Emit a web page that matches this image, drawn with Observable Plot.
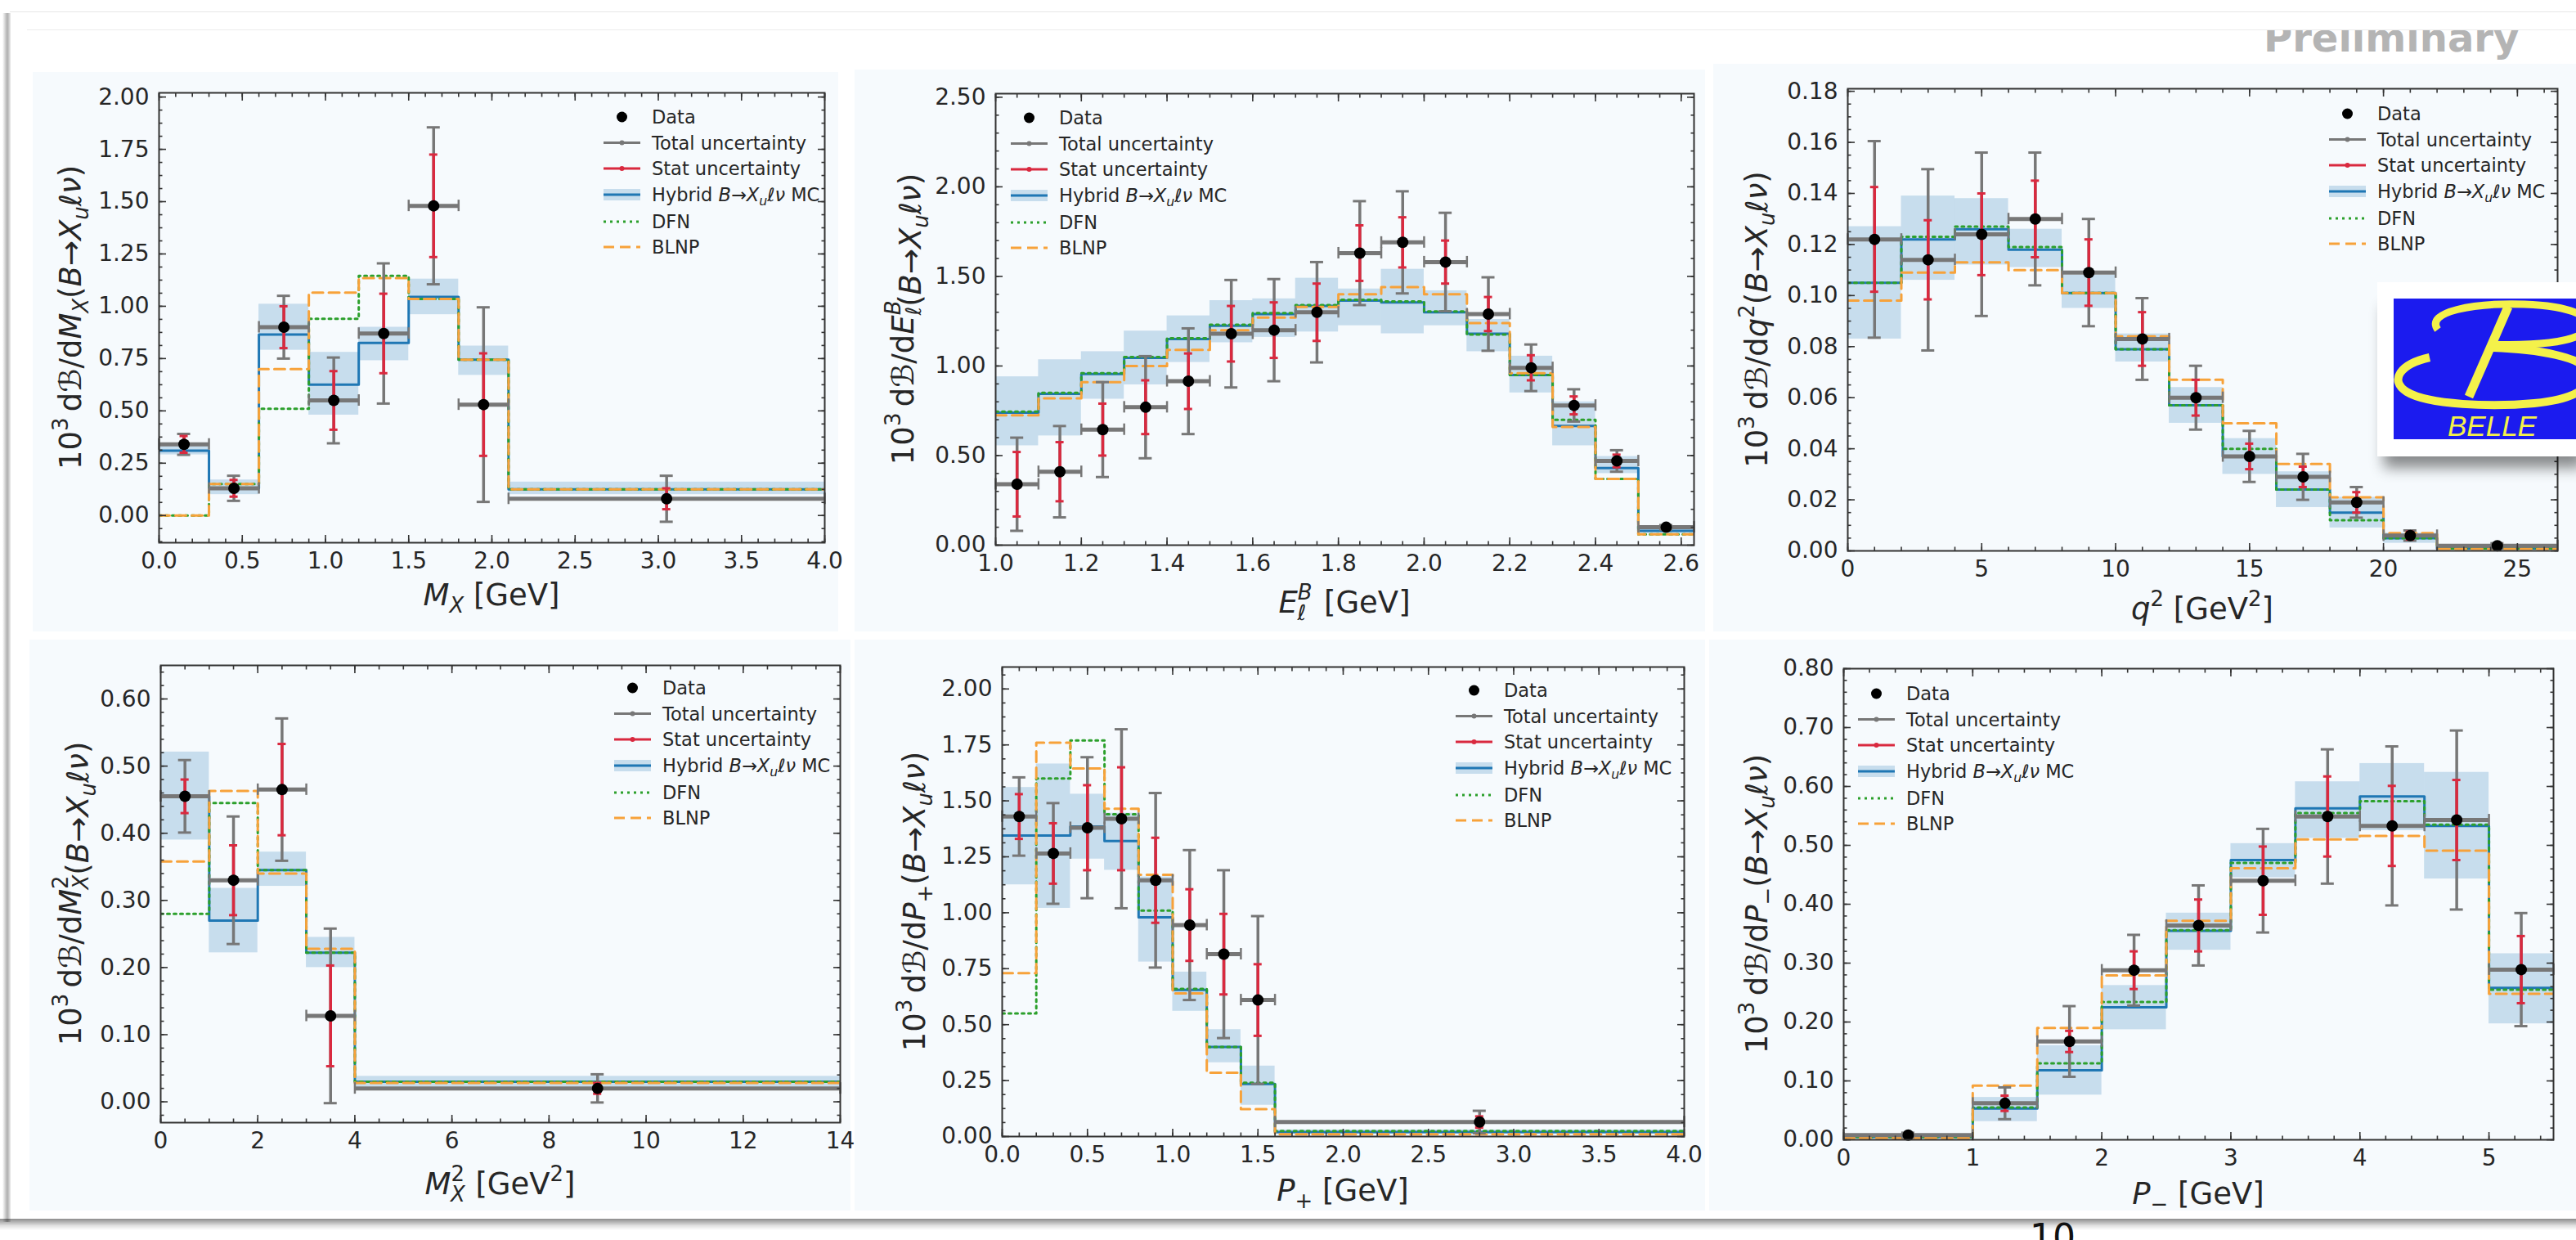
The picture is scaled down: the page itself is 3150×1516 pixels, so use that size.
<!DOCTYPE html>
<html>
<head>
<meta charset="utf-8">
<script src="https://cdn.jsdelivr.net/npm/d3@7"></script>
<script src="https://cdn.jsdelivr.net/npm/@observablehq/plot@0.6"></script>
<style>
html, body { margin: 0; padding: 0; background: #fff; }
#page { position: relative; width: 3150px; height: 1516px; overflow: hidden; background: #fff; font-family: "DejaVu Sans", sans-serif; }
.panel { position: absolute; background: #f6fafd; }
.panel svg { display: block; }
.abs { position: absolute; }
</style>
</head>
<body>
<div id="page"></div>
<script>
// ===================== DATA =====================
// --- M_X ---
const mxEdges   = [0, 0.3, 0.6, 0.9, 1.2, 1.5, 1.8, 2.1, 4.0];
const mxData    = [0.34, 0.13, 0.90, 0.55, 0.87, 1.48, 0.53, 0.08];
const mxTotErr  = [0.05, 0.06, 0.15, 0.205, 0.335, 0.375, 0.465, 0.11];
const mxStatErr = [0.04, 0.04, 0.10, 0.14, 0.19, 0.245, 0.245, 0.05];
const mxMC      = [0.31, 0.13, 0.865, 0.625, 0.825, 1.045, 0.745, 0.125];
const mxMCLo    = [0.29, 0.10, 0.79, 0.48, 0.74, 0.96, 0.67, 0.10];
const mxMCHi    = [0.33, 0.17, 1.01, 0.78, 0.90, 1.13, 0.81, 0.16];
const mxDFN     = [0.0, 0.15, 0.51, 0.94, 1.145, 1.035, 0.745, 0.125];
const mxBLNP    = [0.0, 0.15, 0.70, 1.065, 1.135, 1.035, 0.745, 0.125];
const mxXTicks  = [0, 0.5, 1.0, 1.5, 2.0, 2.5, 3.0, 3.5, 4.0];
const mxYTicks  = [0, 0.25, 0.5, 0.75, 1.0, 1.25, 1.5, 1.75, 2.0];

// --- E_l^B ---
const elEdges   = [1.0, 1.1, 1.2, 1.3, 1.4, 1.5, 1.6, 1.7, 1.8, 1.9, 2.0, 2.1, 2.2, 2.3, 2.4, 2.5, 2.63];
const elData    = [0.34, 0.41, 0.645, 0.77, 0.915, 1.18, 1.20, 1.30, 1.63, 1.69, 1.58, 1.29, 0.99, 0.78, 0.47, 0.10];
const elTotErr  = [0.26, 0.255, 0.265, 0.285, 0.295, 0.30, 0.285, 0.28, 0.29, 0.285, 0.275, 0.205, 0.13, 0.09, 0.06, 0.012];
const elStatErr = [0.18, 0.165, 0.145, 0.15, 0.155, 0.155, 0.155, 0.16, 0.155, 0.14, 0.12, 0.095, 0.07, 0.05, 0.035, 0.006];
const elMC      = [0.74, 0.845, 0.955, 1.045, 1.15, 1.225, 1.29, 1.335, 1.365, 1.355, 1.30, 1.18, 0.95, 0.665, 0.43, 0.08];
const elMCLo    = [0.555, 0.61, 0.815, 0.895, 1.02, 1.13, 1.16, 1.19, 1.225, 1.18, 1.225, 1.08, 0.85, 0.555, 0.40, 0.065];
const elMCHi    = [0.94, 1.035, 1.08, 1.195, 1.28, 1.365, 1.375, 1.49, 1.43, 1.54, 1.42, 1.26, 1.055, 0.80, 0.495, 0.10];
const elDFN     = [0.745, 0.85, 0.96, 1.05, 1.155, 1.23, 1.295, 1.34, 1.37, 1.36, 1.305, 1.175, 0.95, 0.70, 0.37, 0.06];
const elBLNP    = [0.725, 0.82, 0.91, 1.00, 1.09, 1.20, 1.27, 1.33, 1.40, 1.44, 1.40, 1.24, 0.96, 0.66, 0.37, 0.06];
const elXTicks  = [1.0, 1.2, 1.4, 1.6, 1.8, 2.0, 2.2, 2.4, 2.6];
const elYTicks  = [0, 0.5, 1.0, 1.5, 2.0, 2.5];

// --- q^2 ---
const q2Edges   = [0, 2, 4, 6, 8, 10, 12, 14, 16, 18, 20, 22, 26.5];
const q2Data    = [0.122, 0.114, 0.124, 0.130, 0.109, 0.083, 0.060, 0.037, 0.029, 0.019, 0.006, 0.002];
const q2TotErr  = [0.0385, 0.0355, 0.032, 0.026, 0.021, 0.016, 0.0125, 0.010, 0.009, 0.006, 0.002, 0.001];
const q2StatErr = [0.0205, 0.0155, 0.016, 0.015, 0.013, 0.0105, 0.007, 0.005, 0.004, 0.004, 0.0015, 0.0005];
const q2MC      = [0.105, 0.122, 0.126, 0.118, 0.101, 0.079, 0.057, 0.037, 0.024, 0.015, 0.005, 0.001];
const q2MCLo    = [0.083, 0.106, 0.112, 0.111, 0.095, 0.074, 0.050, 0.030, 0.017, 0.009, 0.003, 0.0005];
const q2MCHi    = [0.127, 0.139, 0.138, 0.126, 0.108, 0.085, 0.064, 0.044, 0.031, 0.021, 0.007, 0.0018];
const q2DFN     = [0.105, 0.123, 0.127, 0.119, 0.101, 0.079, 0.057, 0.040, 0.024, 0.012, 0.005, 0.001];
const q2BLNP    = [0.098, 0.109, 0.113, 0.110, 0.101, 0.084, 0.067, 0.050, 0.034, 0.021, 0.007, 0.0008];
const q2XTicks  = [0, 5, 10, 15, 20, 25];
const q2YTicks  = [0, 0.02, 0.04, 0.06, 0.08, 0.10, 0.12, 0.14, 0.16, 0.18];

// --- M_X^2 ---
const m2Edges   = [0, 1, 2, 3, 4, 14];
const m2Data    = [0.455, 0.33, 0.465, 0.128, 0.02];
const m2TotErr  = [0.054, 0.095, 0.106, 0.13, 0.021];
const m2StatErr = [0.025, 0.052, 0.068, 0.075, 0.008];
const m2MC      = [0.455, 0.27, 0.345, 0.222, 0.03];
const m2MCLo    = [0.39, 0.222, 0.321, 0.20, 0.022];
const m2MCHi    = [0.521, 0.318, 0.372, 0.245, 0.038];
const m2DFN     = [0.28, 0.445, 0.345, 0.222, 0.03];
const m2BLNP    = [0.358, 0.463, 0.34, 0.228, 0.028];
const m2XTicks  = [0, 2, 4, 6, 8, 10, 12, 14];
const m2YTicks  = [0, 0.1, 0.2, 0.3, 0.4, 0.5, 0.6];

// --- P_+ ---
const ppEdges   = [0, 0.2, 0.4, 0.6, 0.8, 1.0, 1.2, 1.4, 1.6, 4.0];
const ppData    = [1.43, 1.265, 1.38, 1.42, 1.145, 0.945, 0.815, 0.61, 0.065];
const ppTotErr  = [0.175, 0.225, 0.315, 0.40, 0.39, 0.335, 0.375, 0.375, 0.05];
const ppStatErr = [0.10, 0.135, 0.19, 0.23, 0.19, 0.16, 0.18, 0.16, 0.025];
const ppMC      = [1.345, 1.345, 1.385, 1.32, 0.98, 0.655, 0.40, 0.235, 0.02];
const ppMCLo    = [1.125, 1.02, 1.24, 1.19, 0.78, 0.56, 0.33, 0.14, 0.01];
const ppMCHi    = [1.56, 1.665, 1.53, 1.445, 1.16, 0.735, 0.478, 0.315, 0.03];
const ppDFN     = [0.55, 1.60, 1.77, 1.44, 1.01, 0.66, 0.40, 0.24, 0.025];
const ppBLNP    = [0.73, 1.76, 1.645, 1.465, 1.17, 0.64, 0.285, 0.122, 0.01];
const ppXTicks  = [0, 0.5, 1.0, 1.5, 2.0, 2.5, 3.0, 3.5, 4.0];
const ppYTicks  = [0, 0.25, 0.5, 0.75, 1.0, 1.25, 1.5, 1.75, 2.0];

// --- P_- ---
const pmEdges   = [0, 1, 1.5, 2, 2.5, 3, 3.5, 4, 4.5, 5, 5.5];
const pmData    = [0.008, 0.062, 0.167, 0.288, 0.364, 0.44, 0.549, 0.533, 0.543, 0.289];
const pmTotErr  = [0.004, 0.027, 0.06, 0.06, 0.068, 0.088, 0.114, 0.135, 0.152, 0.096];
const pmStatErr = [0.002, 0.013, 0.018, 0.032, 0.044, 0.058, 0.068, 0.068, 0.068, 0.057];
const pmMC      = [0.005, 0.053, 0.118, 0.225, 0.355, 0.475, 0.563, 0.583, 0.533, 0.258];
const pmMCLo    = [0.002, 0.031, 0.076, 0.187, 0.322, 0.445, 0.512, 0.525, 0.443, 0.197];
const pmMCHi    = [0.008, 0.072, 0.16, 0.262, 0.385, 0.503, 0.608, 0.639, 0.624, 0.316];
const pmDFN     = [0.005, 0.055, 0.13, 0.234, 0.356, 0.47, 0.555, 0.575, 0.535, 0.255];
const pmBLNP    = [0.003, 0.092, 0.19, 0.279, 0.372, 0.461, 0.51, 0.516, 0.491, 0.248];
const pmXTicks  = [0, 1, 2, 3, 4, 5];
const pmYTicks  = [0, 0.1, 0.2, 0.3, 0.4, 0.5, 0.6, 0.7, 0.8];

const legendLabels = ["Data", "Total uncertainty", "Stat uncertainty", "Hybrid", "DFN", "BLNP"];

// ===================== STYLE =====================
const C = { mc: "#1f77b4", dfn: "#2ca02c", blnp: "#f7a23a", tot: "#777777", stat: "#d9293f", ink: "#262626" };
const LABEL_FS = 37, TICK_FS = 28, LEG_FS = 22.5;

const yPre = [["10"], ["3", "sup"], ["\u2009d"], ["ℬ"], ["/d"]];
const ySuf = [["("], ["B", "i"], ["→"], ["X", "i"], ["u", "isub"], ["ℓν", "i"], [")"]];

const panels = [
  { box: [40, 88, 1025, 772], frame: [194, 113, 1008, 663], xDomain: [0, 4], yDomain: [-0.13, 2.02],
    xTicks: mxXTicks, yTicks: mxYTicks, xFmt: ".1f", yFmt: ".2f", xMinor: 0.1, yMinor: 0.0625,
    edges: mxEdges, data: mxData, tot: mxTotErr, stat: mxStatErr, mc: mxMC, mcLo: mxMCLo, mcHi: mxMCHi, dfn: mxDFN, blnp: mxBLNP,
    ylabX: 86, xlabY: 740, leg: [738, 143],
    yVar: [["M", "i"], ["X", "isub"]], xLab: [["M", "i"], ["X", "isub"], [" [GeV]"]] },
  { box: [1045, 85, 2085, 772], frame: [1217, 114, 2071, 666], xDomain: [1.0, 2.63], yDomain: [0, 2.52],
    xTicks: elXTicks, yTicks: elYTicks, xFmt: ".1f", yFmt: ".2f", xMinor: 0.05, yMinor: 0.1,
    edges: elEdges, data: elData, tot: elTotErr, stat: elStatErr, mc: elMC, mcLo: elMCLo, mcHi: elMCHi, dfn: elDFN, blnp: elBLNP,
    ylabX: 1104, xlabY: 749, leg: [1236, 144],
    yVar: [["E", "i"], ["B", "isup"], ["ℓ", "isub", -18], ["", "", 10]],
    xLab: [["E", "i"], ["B", "isup"], ["ℓ", "isub", -18], [" [GeV]", "", 10]] },
  { box: [2095, 78, 3150, 772], frame: [2259, 108, 3127, 673], xDomain: [0, 26.5], yDomain: [0, 0.181],
    xTicks: q2XTicks, yTicks: q2YTicks, xFmt: "d", yFmt: ".2f", xMinor: 1, yMinor: 0.005,
    edges: q2Edges, data: q2Data, tot: q2TotErr, stat: q2StatErr, mc: q2MC, mcLo: q2MCLo, mcHi: q2MCHi, dfn: q2DFN, blnp: q2BLNP,
    ylabX: 2148, xlabY: 757, leg: [2848, 139],
    yVar: [["q", "i"], ["2", "sup"]], xLab: [["q", "i"], ["2", "sup"], [" [GeV"], ["2", "sup"], ["]"]] },
  { box: [36, 782, 1040, 1480], frame: [196, 813, 1027, 1372], xDomain: [0, 14], yDomain: [-0.031, 0.65],
    xTicks: m2XTicks, yTicks: m2YTicks, xFmt: "d", yFmt: ".2f", xMinor: 0.5, yMinor: 0.02,
    edges: m2Edges, data: m2Data, tot: m2TotErr, stat: m2StatErr, mc: m2MC, mcLo: m2MCLo, mcHi: m2MCHi, dfn: m2DFN, blnp: m2BLNP,
    ylabX: 86, xlabY: 1460, leg: [751, 841],
    yVar: [["M", "i"], ["2", "sup"], ["X", "isub", -17], ["", "", 1]],
    xLab: [["M", "i"], ["2", "sup"], ["X", "isub", -17], [" [GeV", "", 1], ["2", "sup"], ["]"]] },
  { box: [1045, 782, 2085, 1480], frame: [1225, 815, 2059, 1389], xDomain: [0, 4], yDomain: [0, 2.098],
    xTicks: ppXTicks, yTicks: ppYTicks, xFmt: ".1f", yFmt: ".2f", xMinor: 0.1, yMinor: 0.0625,
    edges: ppEdges, data: ppData, tot: ppTotErr, stat: ppStatErr, mc: ppMC, mcLo: ppMCLo, mcHi: ppMCHi, dfn: ppDFN, blnp: ppBLNP,
    ylabX: 1118, xlabY: 1468, leg: [1780, 844],
    yVar: [["P", "i"], ["+", "sub"]], xLab: [["P", "i"], ["+", "sub"], [" [GeV]"]] },
  { box: [2090, 782, 3150, 1480], frame: [2254, 817, 3122, 1393], xDomain: [0, 5.5], yDomain: [0, 0.8],
    xTicks: pmXTicks, yTicks: pmYTicks, xFmt: "d", yFmt: ".2f", xMinor: 0.2, yMinor: 0.02,
    edges: pmEdges, data: pmData, tot: pmTotErr, stat: pmStatErr, mc: pmMC, mcLo: pmMCLo, mcHi: pmMCHi, dfn: pmDFN, blnp: pmBLNP,
    ylabX: 2148, xlabY: 1472, leg: [2272, 848],
    yVar: [["P", "i"], ["−", "sub"]], xLab: [["P", "i"], ["−", "sub"], [" [GeV]"]] }
];

// ===================== HELPERS =====================
function rich(sel, parts, fs) {
  let shift = 0;
  for (const [str, kind = "", dx] of parts) {
    const t = sel.append("tspan").text(str);
    const isSup = kind.includes("sup"), isSub = kind.includes("sub");
    const target = isSup ? -0.42 * fs : isSub ? 0.24 * fs : 0;
    t.attr("font-size", (isSup || isSub) ? fs * 0.7 : fs);
    if (kind.startsWith("i")) t.attr("font-style", "italic");
    if (target !== shift) { t.attr("dy", target - shift); shift = target; }
    if (dx) t.attr("dx", dx);
  }
}

function minorTicks(dom, s) {
  const out = [];
  for (let k = Math.ceil(dom[0] / s - 1e-9); k * s <= dom[1] + 1e-9; k++) out.push(+(k * s).toFixed(6));
  return out;
}

function build(p) {
  const [bx0, by0, bx1, by1] = p.box;
  const [fx0, fy0, fx1, fy1] = p.frame;
  const W = bx1 - bx0, H = by1 - by0;
  const n = p.data.length;
  const bins = p.data.map((v, i) => ({
    x1: p.edges[i], x2: p.edges[i + 1], xc: (p.edges[i] + p.edges[i + 1]) / 2, v,
    tot: p.tot[i], stat: p.stat[i], mc: p.mc[i], lo: p.mcLo[i], hi: p.mcHi[i], dfn: p.dfn[i], blnp: p.blnp[i]
  }));
  const step = key => bins.map(b => ({ x: b.x1, y: b[key] })).concat([{ x: bins[n - 1].x2, y: bins[n - 1][key] }]);
  const xMin = minorTicks(p.xDomain, p.xMinor), yMin = minorTicks(p.yDomain, p.yMinor);
  const tk = { label: null, stroke: "#333", strokeWidth: 1.6 };

  const svg = Plot.plot({
    width: W, height: H,
    marginLeft: fx0 - bx0, marginRight: bx1 - fx1, marginTop: fy0 - by0, marginBottom: by1 - fy1,
    x: { domain: p.xDomain, axis: null },
    y: { domain: p.yDomain, axis: null },
    style: { background: "transparent", fontFamily: "'DejaVu Sans', sans-serif", color: C.ink, overflow: "visible" },
    marks: [
      Plot.rectY(bins, { x1: "x1", x2: "x2", y1: "lo", y2: "hi", fill: C.mc, fillOpacity: 0.22, clip: true }),
      Plot.line(step("mc"), { x: "x", y: "y", curve: "step-after", stroke: C.mc, strokeWidth: 3, clip: true }),
      Plot.line(step("dfn"), { x: "x", y: "y", curve: "step-after", stroke: C.dfn, strokeWidth: 3, strokeDasharray: "3,5", clip: true }),
      Plot.line(step("blnp"), { x: "x", y: "y", curve: "step-after", stroke: C.blnp, strokeWidth: 3, strokeDasharray: "13,7", clip: true }),
      // total uncertainty
      Plot.ruleY(bins, { y: "v", x1: "x1", x2: "x2", stroke: C.tot, strokeWidth: 5 }),
      Plot.ruleX(bins, { x: "x1", y1: "v", y2: "v", insetTop: -7, insetBottom: -7, stroke: C.tot, strokeWidth: 2.5 }),
      Plot.ruleX(bins, { x: "x2", y1: "v", y2: "v", insetTop: -7, insetBottom: -7, stroke: C.tot, strokeWidth: 2.5 }),
      Plot.ruleX(bins, { x: "xc", y1: d => d.v - d.tot, y2: d => d.v + d.tot, stroke: C.tot, strokeWidth: 3.5 }),
      Plot.ruleY(bins, { y: d => d.v - d.tot, x1: "xc", x2: "xc", insetLeft: -8, insetRight: -8, stroke: C.tot, strokeWidth: 3 }),
      Plot.ruleY(bins, { y: d => d.v + d.tot, x1: "xc", x2: "xc", insetLeft: -8, insetRight: -8, stroke: C.tot, strokeWidth: 3 }),
      // stat uncertainty
      Plot.ruleX(bins, { x: "xc", y1: d => d.v - d.stat, y2: d => d.v + d.stat, stroke: C.stat, strokeWidth: 3.5 }),
      Plot.ruleY(bins, { y: d => d.v - d.stat, x1: "xc", x2: "xc", insetLeft: -5, insetRight: -5, stroke: C.stat, strokeWidth: 3 }),
      Plot.ruleY(bins, { y: d => d.v + d.stat, x1: "xc", x2: "xc", insetLeft: -5, insetRight: -5, stroke: C.stat, strokeWidth: 3 }),
      // data
      Plot.dot(bins, { x: "xc", y: "v", r: 7, fill: "#000", stroke: "none" }),
      Plot.frame({ stroke: "#333", strokeWidth: 2 }),
      // axes (inward ticks on all sides)
      Plot.axisX(p.xTicks, { anchor: "bottom", tickSize: -9, tickPadding: 21, tickFormat: d3.format(p.xFmt), fontSize: TICK_FS, ...tk }),
      Plot.axisX(p.xTicks, { anchor: "top", tickSize: -9, fill: "none", ...tk }),
      Plot.axisX(xMin, { anchor: "bottom", tickSize: -4.5, fill: "none", ...tk }),
      Plot.axisX(xMin, { anchor: "top", tickSize: -4.5, fill: "none", ...tk }),
      Plot.axisY(p.yTicks, { anchor: "left", tickSize: -9, tickPadding: 21, tickFormat: d3.format(p.yFmt), fontSize: TICK_FS, ...tk }),
      Plot.axisY(p.yTicks, { anchor: "right", tickSize: -9, fill: "none", ...tk }),
      Plot.axisY(yMin, { anchor: "left", tickSize: -4.5, fill: "none", ...tk }),
      Plot.axisY(yMin, { anchor: "right", tickSize: -4.5, fill: "none", ...tk })
    ]
  });

  const g = d3.select(svg).append("g").attr("font-family", "'DejaVu Sans', sans-serif").attr("fill", C.ink);

  // y label (rotated)
  const ycx = p.ylabX - bx0 + 13, ycy = (fy0 + fy1) / 2 - by0;
  const yl = g.append("text").attr("text-anchor", "middle").attr("font-size", LABEL_FS)
    .attr("transform", `translate(${ycx},${ycy}) rotate(-90)`);
  rich(yl, [...yPre, ...p.yVar, ...ySuf], LABEL_FS);

  // x label
  const xl = g.append("text").attr("text-anchor", "middle").attr("font-size", LABEL_FS)
    .attr("x", (fx0 + fx1) / 2 - bx0).attr("y", p.xlabY - by0);
  rich(xl, p.xLab, LABEL_FS);

  // legend
  const lx = p.leg[0] - bx0, ly = p.leg[1] - by0;
  const rows = [0, 31.5, 63, 95, 128, 159];
  const L = 45;
  const lg = g.append("g").attr("text-anchor", "start");
  legendLabels.forEach((lab, i) => {
    const y = ly + rows[i];
    if (i === 0) lg.append("circle").attr("cx", lx + L / 2).attr("cy", y).attr("r", 6.5).attr("fill", "#000");
    if (i === 1 || i === 2) {
      const col = i === 1 ? C.tot : C.stat;
      lg.append("line").attr("x1", lx).attr("x2", lx + L).attr("y1", y).attr("y2", y).attr("stroke", col).attr("stroke-width", 3);
      lg.append("circle").attr("cx", lx + L / 2).attr("cy", y).attr("r", 3).attr("fill", col);
    }
    if (i === 3) {
      lg.append("rect").attr("x", lx).attr("y", y - 7).attr("width", L).attr("height", 14).attr("fill", C.mc).attr("fill-opacity", 0.22);
      lg.append("line").attr("x1", lx).attr("x2", lx + L).attr("y1", y).attr("y2", y).attr("stroke", C.mc).attr("stroke-width", 3);
    }
    if (i === 4) lg.append("line").attr("x1", lx).attr("x2", lx + L).attr("y1", y).attr("y2", y).attr("stroke", C.dfn).attr("stroke-width", 3).attr("stroke-dasharray", "3,5");
    if (i === 5) lg.append("line").attr("x1", lx).attr("x2", lx + L).attr("y1", y).attr("y2", y).attr("stroke", C.blnp).attr("stroke-width", 3).attr("stroke-dasharray", "13,7");
    const t = lg.append("text").attr("text-anchor", "start").attr("x", lx + 59).attr("y", y + 8).attr("font-size", LEG_FS);
    if (i === 3) rich(t, [["Hybrid "], ["B", "i"], ["→"], ["X", "i"], ["u", "isub"], ["ℓν", "i"], [" MC"]], LEG_FS);
    else t.text(lab);
  });
  return svg;
}

// ===================== PAGE =====================
const page = document.getElementById("page");

function addDiv(css) { const d = document.createElement("div"); d.className = "abs"; d.style.cssText = css; page.appendChild(d); return d; }

// slide frame decorations
addDiv("left:12px;top:14px;width:3138px;height:1px;background:#e6e6e6;");
addDiv("left:33px;top:36px;width:3117px;height:1px;background:#ececec;");
addDiv("left:3px;top:16px;width:10px;height:1478px;background:linear-gradient(to right,rgba(0,0,0,0),rgba(0,0,0,0.32) 60%,rgba(0,0,0,0.08));");
addDiv("left:0px;top:1490px;width:3150px;height:14px;background:linear-gradient(to bottom,rgba(0,0,0,0.45),rgba(0,0,0,0.12) 60%,rgba(0,0,0,0));");

for (const p of panels) {
  const d = document.createElement("div");
  d.className = "panel";
  d.style.left = p.box[0] + "px"; d.style.top = p.box[1] + "px";
  d.style.width = (p.box[2] - p.box[0]) + "px"; d.style.height = (p.box[3] - p.box[1]) + "px";
  page.appendChild(d);
  d.appendChild(build(p));
}

// "Preliminary" watermark (top clipped as in the slide)
const pre = d3.select(page).append("svg").attr("class", "abs").style("left", "2700px").style("top", "37px")
  .attr("width", 450).attr("height", 50);
pre.append("text").attr("x", 68).attr("y", 26).attr("font-family", "'DejaVu Sans', sans-serif")
  .attr("font-weight", "bold").attr("font-size", 48).attr("fill", "#b4b4b4").text("Preliminary");

// BELLE logo
const logoBox = addDiv("left:2907px;top:345px;width:260px;height:213px;background:#fff;box-shadow:0 22px 16px -8px rgba(0,0,0,0.45);");
const logo = d3.select(logoBox).append("svg").attr("width", 260).attr("height", 213).style("display", "block");
logo.append("rect").attr("x", 20).attr("y", 20).attr("width", 240).attr("height", 172).attr("fill", "#1b1bef");
const Y = "#f4f14a";
logo.append("path").attr("d", "M 74 58 C 58 36 118 25 180 27 C 240 29 268 44 254 60 C 240 74 190 78 136 76")
  .attr("fill", "none").attr("stroke", Y).attr("stroke-width", 9);
logo.append("path").attr("d", "M 64 92 C 28 100 14 120 36 134 C 62 150 140 153 192 148 C 244 143 268 126 258 108 C 248 92 200 82 140 80")
  .attr("fill", "none").attr("stroke", Y).attr("stroke-width", 10);
logo.append("path").attr("d", "M 160 30 L 112 140").attr("stroke", Y).attr("stroke-width", 11);
logo.append("text").attr("x", 86).attr("y", 188).attr("font-family", "'Liberation Sans', sans-serif")
  .attr("font-style", "italic").attr("font-size", 35).attr("fill", Y).text("BELLE");

// page number (cut off at bottom, as in the slide)
const pn = d3.select(page).append("svg").attr("class", "abs").style("left", "2470px").style("top", "1490px")
  .attr("width", 120).attr("height", 26);
pn.append("text").attr("x", 12).attr("y", 38).attr("font-family", "'DejaVu Sans', sans-serif")
  .attr("font-size", 44).attr("fill", "#111").text("10");
</script>
</body>
</html>
